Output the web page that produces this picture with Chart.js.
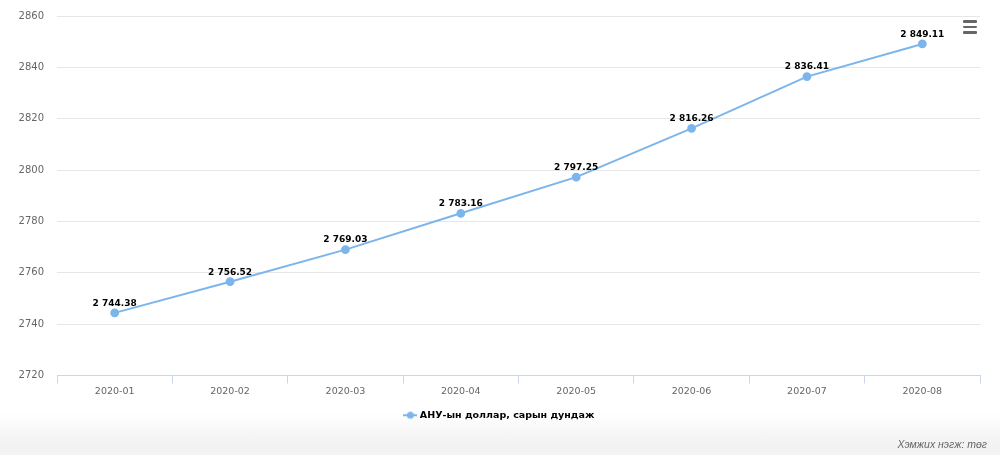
<!DOCTYPE html>
<html>
<head>
<meta charset="utf-8">
<script src="https://cdn.jsdelivr.net/npm/chart.js@4"></script>
<style>
  html, body { margin: 0; padding: 0; }
  body {
    width: 1000px;
    height: 455px;
    overflow: hidden;
    position: relative;
    background: linear-gradient(to bottom, #fff 0, #fff 412px, #f2f2f2 445px, #f4f4f4 455px);
    font-family: "DejaVu Sans", sans-serif;
  }
  #wrap { position: absolute; left: 0; top: 0; width: 1000px; height: 440px; }
  #menu { position: absolute; left: 963px; top: 20px; width: 14px; }
  #menu span { display: block; height: 2.5px; background: #666; margin-bottom: 3px; border-radius: 1px; }
  #unit {
    position: absolute; right: 13px; top: 438px;
    font-family: "Liberation Sans", Arial, sans-serif;
    font-style: italic; font-size: 10.5px; color: #666;
  }
</style>
</head>
<body>
<div id="wrap"><canvas id="chart"></canvas></div>
<div id="menu"><span></span><span></span><span></span></div>
<div id="unit">Хэмжих нэгж: төг</div>
<script>
const months = ["2020-01", "2020-02", "2020-03", "2020-04", "2020-05", "2020-06", "2020-07", "2020-08"];
const usdRate = [2744.38, 2756.52, 2769.03, 2783.16, 2797.25, 2816.26, 2836.41, 2849.11];
const seriesName = "АНУ-ын доллар, сарын дундаж";
const yMin = 2720;
const yMax = 2860;
const yStep = 20;

const lineColor = "#7cb5ec";

function formatValue(v) {
  const parts = v.toFixed(2).split(".");
  return parts[0].replace(/\B(?=(\d{3})+(?!\d))/g, " ") + "." + parts[1];
}

// legend symbol: short line with a dot, like the original
function legendSymbol() {
  const c = document.createElement("canvas");
  c.width = 14;
  c.height = 10;
  const ctx = c.getContext("2d");
  ctx.strokeStyle = lineColor;
  ctx.lineWidth = 2;
  ctx.beginPath();
  ctx.moveTo(0, 5);
  ctx.lineTo(14, 5);
  ctx.stroke();
  ctx.fillStyle = lineColor;
  ctx.beginPath();
  ctx.arc(7, 5, 3.5, 0, Math.PI * 2);
  ctx.fill();
  return c;
}

const valueLabels = {
  id: "valueLabels",
  afterDatasetsDraw(chart) {
    const ctx = chart.ctx;
    const meta = chart.getDatasetMeta(0);
    ctx.save();
    ctx.font = "bold 9px 'DejaVu Sans'";
    ctx.fillStyle = "#000";
    ctx.textAlign = "center";
    ctx.textBaseline = "bottom";
    meta.data.forEach((pt, i) => {
      ctx.fillText(formatValue(usdRate[i]), pt.x, pt.y - 5);
    });
    ctx.restore();
  },
};

function fixY(width) {
  return (scale) => {
    scale.width = width;
    scale.paddingTop = 0;
    scale.paddingBottom = 0;
  };
}

new Chart(document.getElementById("chart"), {
  type: "line",
  data: {
    labels: months,
    datasets: [
      {
        label: seriesName,
        data: usdRate,
        borderColor: lineColor,
        backgroundColor: lineColor,
        borderWidth: 2,
        pointRadius: 3.4,
        pointHoverRadius: 3.4,
        tension: 0,
      },
    ],
  },
  options: {
    responsive: true,
    maintainAspectRatio: false,
    animation: false,
    layout: { padding: { left: 0, right: 0, top: 16, bottom: 10 } },
    plugins: {
      tooltip: { enabled: false },
      legend: {
        position: "bottom",
        labels: {
          color: "#333",
          font: { family: "DejaVu Sans", size: 9.5, weight: "bold" },
          padding: 10,
          generateLabels: (chart) => [
            {
              text: seriesName,
              pointStyle: legendSymbol(),
              fillStyle: lineColor,
              strokeStyle: lineColor,
              lineWidth: 0,
              datasetIndex: 0,
            },
          ],
          usePointStyle: true,
        },
      },
    },
    scales: {
      x: {
        offset: true,
        grid: {
          display: true,
          offset: true,
          drawOnChartArea: false,
          tickLength: 8,
          color: "#ccd6eb",
        },
        border: { color: "#ccd6eb" },
        ticks: {
          color: "#666",
          font: { family: "DejaVu Sans", size: 9.5 },
          padding: 2,
          maxRotation: 0,
        },
        afterFit: (scale) => { scale.height = 25; },
      },
      y: {
        min: yMin,
        max: yMax,
        grid: { color: "#e6e6e6", drawTicks: false },
        border: { display: false },
        ticks: {
          stepSize: yStep,
          color: "#666",
          padding: 13,
          font: { family: "DejaVu Sans", size: 10 },
          callback: (v) => String(v),
        },
        afterFit: fixY(57),
      },
      // empty right axis: keeps the plot 20px off the right edge
      // while the legend stays centred on the whole canvas
      yRight: {
        position: "right",
        min: yMin,
        max: yMax,
        grid: { display: false },
        border: { display: false },
        ticks: { display: false },
        afterFit: fixY(20),
      },
    },
  },
  plugins: [valueLabels],
});
</script>
</body>
</html>
